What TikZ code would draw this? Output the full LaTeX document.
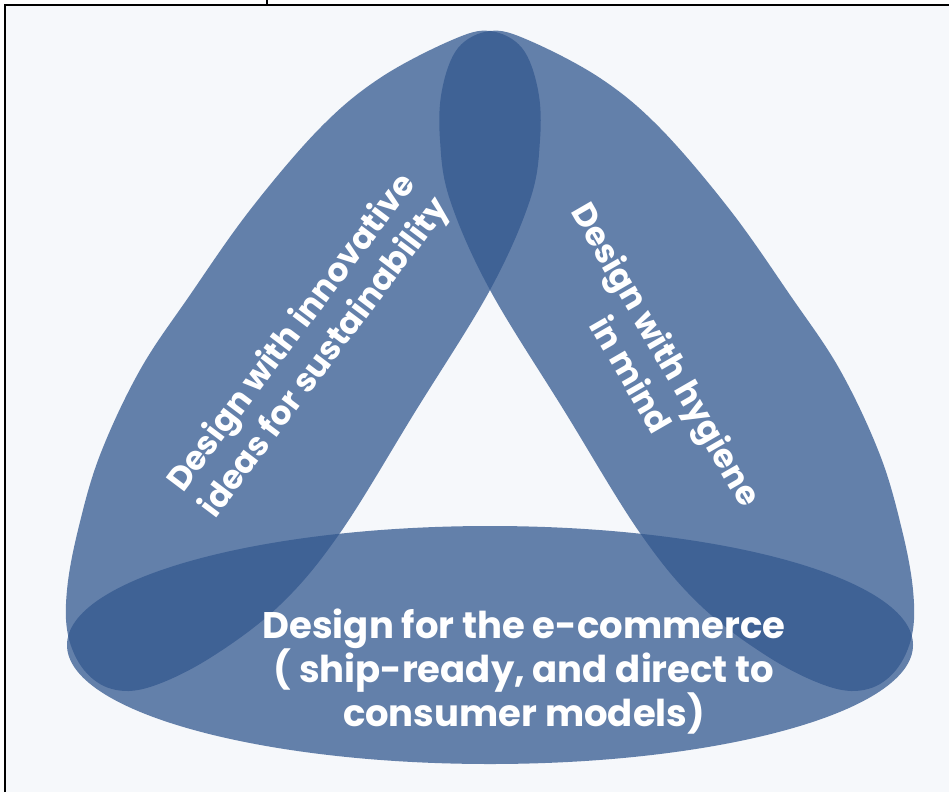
\documentclass[tikz,border=0pt]{standalone}
\usepackage{fontspec}
\setmainfont{Poppins}
\usepackage{tikz}
\usetikzlibrary{calc}

\definecolor{leafblue}{HTML}{33588F}
\definecolor{pagebg}{HTML}{F6F8FB}

\begin{document}
\begin{tikzpicture}[x=1pt, y=-1pt,
        leaf/.style = {fill=leafblue, fill opacity=0.75},
        caption/.style = {text=white, align=center, inner sep=0pt,
            font=\bfseries\fontsize{33}{41}\selectfont}]
        \def\leafleft{%
        plot[smooth cycle, tension=.6] coordinates {(452,40)
        (490,31) (522,48) (538,90) (540,140) (530,200) (490,290)
        (415,412) (340,533) (280,605) (210,658) (150,687) (112,689)
        (84,670) (68,635) (67,590) (78,530) (100,455) (140,370)
        (190,295) (250,210) (320,128) (380,78)};}

        \useasboundingbox (0,0) rectangle (949,792);
        \fill[pagebg] (5,5) rectangle (949,792);
        \draw[line width=1.5pt] (5,792) -- (5,5) -- (949,5);
        \draw[line width=1.5pt] (267,0) -- (267,5);

        \fill[leaf] \leafleft;
        \begin{scope}[xshift=980pt, xscale=-1]
            \fill[leaf] \leafleft;
        \end{scope}
        \fill[leaf] (490,645) ellipse [x radius=423pt, y radius=119pt];

        \node[caption, rotate=53] (innovation) at (309,346)
            {Design with innovative\\ideas for sustainability};
        \node[caption, rotate=-60] (hygiene) at (650,364)
            {Design with hygiene\\in mind};
        \node[caption, font=\bfseries\fontsize{37}{44}\selectfont]
            (ecommerce) at (524,672)
            {Design for the e-commerce\\( ship-ready, and direct to\\consumer models)};
    \end{tikzpicture}
\end{document}
